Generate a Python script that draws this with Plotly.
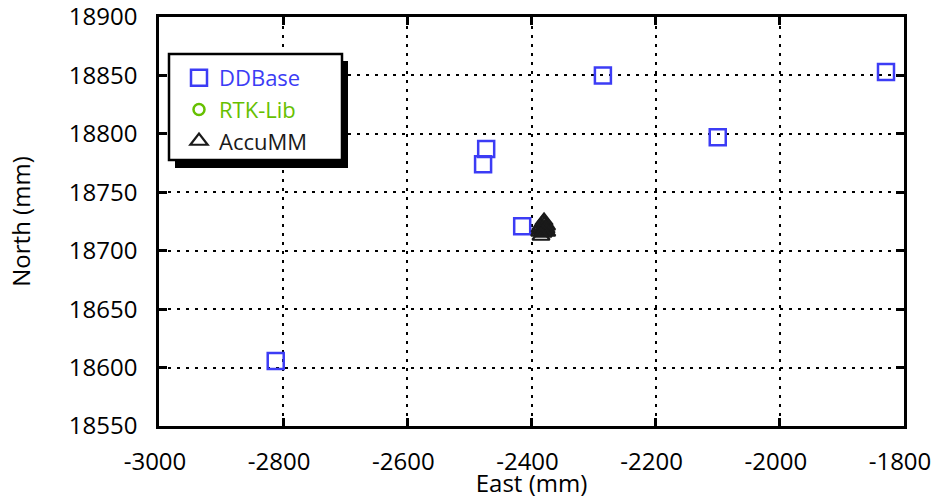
import plotly.graph_objects as go

# DDBase solutions (East, North) in mm
dd_east = [-2812, -2285, -1829, -2100, -2473, -2478, -2415]
dd_north = [18605.6, 18850, 18853, 18797, 18787, 18774, 18721]

# RTK-Lib solutions (hidden below AccuMM cluster)
rtk_east = [-2381, -2380, -2382, -2380]
rtk_north = [18719, 18720, 18718, 18718]

# AccuMM solutions
acc_east = [-2379.8, -2381.4, -2378.2, -2384.7, -2375.8, -2386.3, -2376.6, -2383.0,
            -2379.8, -2386.8, -2375.5, -2381.4, -2384.7]
acc_north = [18725.4, 18723.7, 18722.9, 18721.3, 18721.3, 18719.4, 18718.6, 18717.7,
             18716.9, 18716.0, 18716.0, 18715.2, 18712.6]

x_ticks = [-3000, -2800, -2600, -2400, -2200, -2000, -1800]
y_ticks = [18550, 18600, 18650, 18700, 18750, 18800, 18850, 18900]

BLUE = "#3c3cf5"
GREEN = "#66c000"
BLACK = "#1a1a1a"
FONT = "Open Sans"
FS = 24

fig = go.Figure()
fig.add_trace(go.Scatter(
    x=dd_east, y=dd_north, mode="markers",
    name=f"<span style='color:{BLUE}'>DDBase</span>",
    marker=dict(symbol="square-open", size=16, color=BLUE, line=dict(width=2.5, color=BLUE)),
))
fig.add_trace(go.Scatter(
    x=rtk_east, y=rtk_north, mode="markers",
    name=f"<span style='color:{GREEN}'>RTK-Lib</span>",
    marker=dict(symbol="circle-open", size=11, color=GREEN, line=dict(width=2.5, color=GREEN)),
))
fig.add_trace(go.Scatter(
    x=acc_east, y=acc_north, mode="markers",
    name=f"<span style='color:{BLACK}'>AccuMM</span>",
    marker=dict(symbol="triangle-up-open", size=15, color=BLACK, line=dict(width=2.2, color=BLACK)),
))

L, R, T, B = 159, 29, 17, 73
W, H = 933, 499
pw, ph = W - L - R, H - T - B

def px_x(p):
    return (p - L) / pw

def px_y(p):
    return (H - B - p) / ph

# legend drop shadow and box
fig.add_shape(type="rect", xref="paper", yref="paper",
              x0=px_x(175), x1=px_x(348), y0=px_y(168), y1=px_y(61),
              fillcolor="black", line=dict(width=0), layer="above")
fig.add_shape(type="rect", xref="paper", yref="paper",
              x0=px_x(169), x1=px_x(342), y0=px_y(160), y1=px_y(54),
              fillcolor="white", line=dict(width=2.5, color="black"), layer="above")

axis_common = dict(
    showline=True, linecolor="black", linewidth=2.5, mirror="ticks",
    ticks="inside", ticklen=8, tickwidth=2.5, tickcolor="black",
    showgrid=True, gridcolor="black", gridwidth=2, griddash="3px,6px",
    zeroline=False, tickfont=dict(family=FONT, size=FS, color="black"),
    ticklabeloverflow="allow",
)

fig.update_layout(
    width=W, height=H,
    margin=dict(l=L, r=R, t=T, b=B, autoexpand=False),
    plot_bgcolor="white", paper_bgcolor="white",
    font=dict(family=FONT, size=FS, color="black"),
    showlegend=True,
    legend=dict(x=px_x(179), y=px_y(57), xanchor="left", yanchor="top",
                bgcolor="rgba(0,0,0,0)", borderwidth=0,
                font=dict(family=FONT, size=22), tracegroupgap=0),
    xaxis=dict(range=[-3000, -1800], tickvals=x_ticks, ticktext=[str(v) for v in x_ticks],
               ticklabelstandoff=12, ticklabelshift=-4,
               title=dict(text="East (mm)", standoff=17, font=dict(family=FONT, size=FS)),
               **axis_common),
    yaxis=dict(range=[18550, 18900], tickvals=y_ticks, ticktext=[str(v) for v in y_ticks],
               ticklabelstandoff=14,
               title=dict(text="North (mm)", standoff=32, font=dict(family=FONT, size=FS)),
               **axis_common),
)

fig.write_html("out.html",
               config={"displayModeBar": False},
               post_script="document.body.style.margin='0';document.body.style.overflow='hidden';")
